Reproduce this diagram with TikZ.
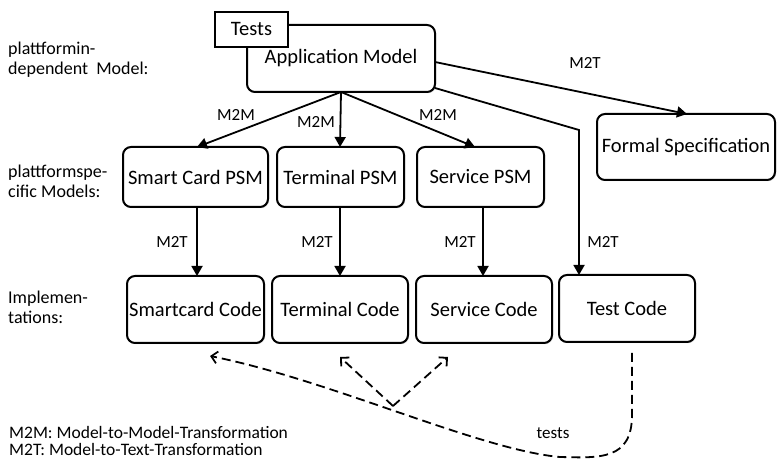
\documentclass[tikz,border=0pt]{standalone}
\usepackage{fontspec}
\setmainfont{Carlito}
\usetikzlibrary{arrows.meta,shadows}
\begin{document}
\begin{tikzpicture}[x=1pt,y=-1pt,
  box/.style={draw,line width=2pt,rounded corners=8pt,fill=white,
    font=\fontsize{20.5}{23}\selectfont,inner sep=0pt,
    drop shadow={opacity=0.25,shadow xshift=1.2pt,shadow yshift=-1.2pt}},
  sqbox/.style={draw,line width=1.8pt,fill=white,font=\fontsize{20.5}{23}\selectfont,inner sep=0pt},
  conn/.style={line width=1.8pt,-{Triangle[length=10pt,width=11pt]}},
  dconn/.style={line width=1.8pt,dash pattern=on 9pt off 5pt,-{Straight Barb[length=6pt,width=12pt,line width=1.8pt]}},
  lbl/.style={font=\fontsize{17}{20}\selectfont,inner sep=0pt},
  side/.style={font=\fontsize{18}{20}\selectfont,inner sep=0pt,anchor=west,align=left}]
\useasboundingbox (0,0) rectangle (777,462);

% top level
\node[box,minimum width=188pt,minimum height=67pt] (am) at (341,58.5) {\raisebox{-5pt}{Application Model}};
\node[sqbox,minimum width=73pt,minimum height=35pt] (tests) at (251.5,29.5) {Tests};
\node[box,minimum width=178pt,minimum height=66pt] (fs) at (686,147) {Formal Specification};

% PSMs
\node[box,minimum width=145pt,minimum height=60pt] (scp) at (195.5,177) {Smart Card PSM};
\node[box,minimum width=127pt,minimum height=60pt] (tp) at (340.5,177) {Terminal PSM};
\node[box,minimum width=127pt,minimum height=60pt] (sp) at (480.5,177) {Service PSM};

% Code
\node[box,minimum width=137pt,minimum height=67pt] (scc) at (195.5,309.5) {Smartcard Code};
\node[box,minimum width=136pt,minimum height=67pt] (tc) at (340,309.5) {Terminal Code};
\node[box,minimum width=136pt,minimum height=67pt] (svc) at (484,309.5) {Service Code};
\node[box,minimum width=136pt,minimum height=67pt] (tcc) at (627,308.5) {Test Code};

% M2M arrows
\coordinate (amb) at (341,92);
\draw[conn] (amb) -- (197,147);
\draw[conn] (amb) -- (340,147);
\draw[conn] (amb) -- (475,147);
\node[lbl] (l1) at (236,115) {M2M};
\node[lbl] (l2) at (316,122) {M2M};
\node[lbl] (l3) at (438,115) {M2M};

% M2T to formal spec
\draw[conn] (435,62) -- (687,114);
\node[lbl] (l4) at (585,63) {M2T};

% to test code
\draw[conn] (435,88) -- (579,130) -- (579,275);

% PSM -> code
\draw[conn] (scp.south -| 197,0) -- (197,276);
\draw[conn] (tp.south -| 340,0) -- (340,276);
\draw[conn] (sp.south -| 483,0) -- (483,276);
\node[lbl] (m1) at (172,242) {M2T};
\node[lbl] (m2) at (317,242) {M2T};
\node[lbl] (m3) at (460,242) {M2T};
\node[lbl] (m4) at (603,242) {M2T};

% dashed tests path
\coordinate (tstart) at (632,353);
\coordinate (scend) at (210,356);
\coordinate (cross) at (393,406);
\draw[dconn] (tstart) -- (632,415) .. controls (632,460) and (600,458) .. (560,457)
   .. controls (480,450) and (330,380) .. (scend);
\draw[dconn] (cross) -- (340,357);
\draw[dconn] (cross) -- (448,357);
\node[lbl] (tl) at (553,433) {tests};

% side labels
\node[side] (s1) at (8,60) {plattformin-\\dependent~~Model:};
\node[side] (s2) at (8,181) {plattformspe-\\cific Models:};
\node[side] (s3) at (8,307) {Implemen-\\tations:};

% legend
\node[side,font=\fontsize{17.5}{17}\selectfont] (lg) at (9,441) {M2M: Model-to-Model-Transformation\\M2T: Model-to-Text-Transformation};
\end{tikzpicture}
\end{document}
